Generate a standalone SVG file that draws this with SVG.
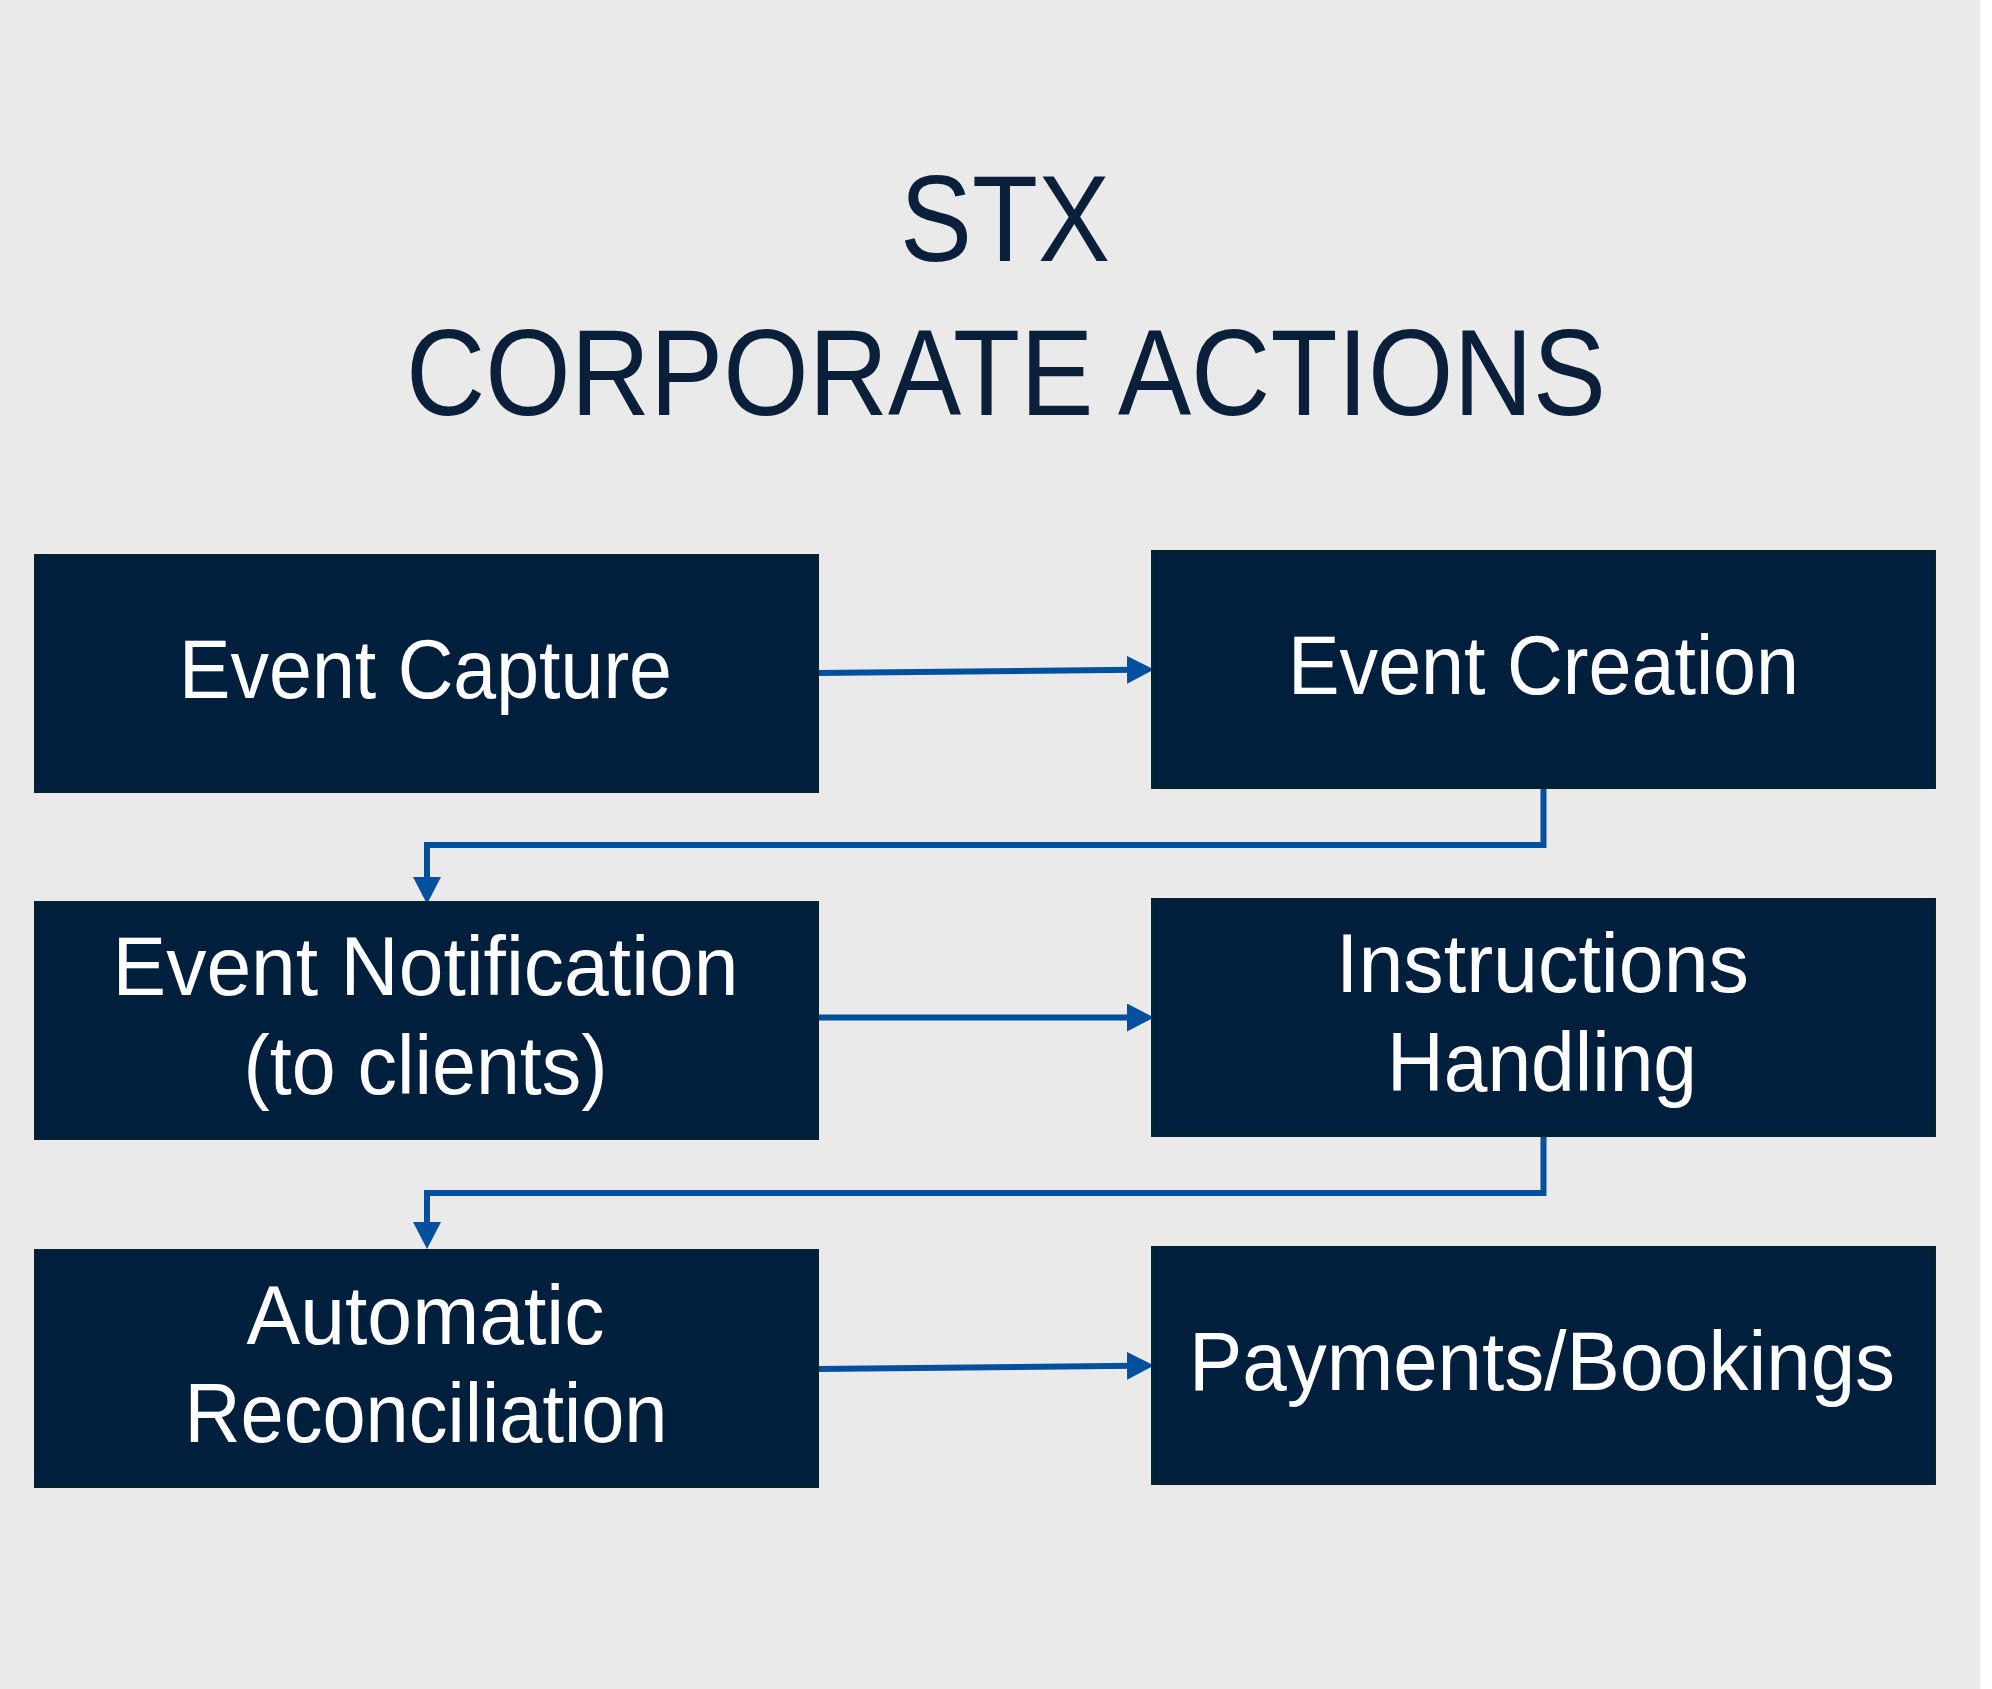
<svg xmlns="http://www.w3.org/2000/svg" width="1992" height="1689" viewBox="0 0 1992 1689">
  <style>
    .bg { fill: #eaeaea; }
    .box { fill: #001f3c; stroke: #04222f; stroke-width: 2.5; }
    .title { font-family: "Liberation Sans", Arial, sans-serif; font-size: 123px; fill: #0a1f3a; }
    .label { font-family: "Liberation Sans", Arial, sans-serif; font-size: 83px; fill: #ffffff; }
    .conn { fill: none; stroke: #00509e; stroke-width: 6; stroke-linejoin: miter; }
  </style>
  <defs>
    <marker id="arrow" markerUnits="userSpaceOnUse" markerWidth="28" markerHeight="28" refX="7" refY="14" orient="auto" viewBox="0 0 28 28">
      <path d="M0,0 L27,14 L0,28 Z" fill="#00509e"/>
    </marker>
  </defs>
  <rect class="bg" x="0" y="0" width="1980" height="1689"/>
  <rect x="1980" y="0" width="12" height="1689" fill="#ffffff"/>

  <g id="title">
    <text class="title" x="900" y="261" textLength="210" lengthAdjust="spacingAndGlyphs">STX</text>
    <text class="title" x="406" y="415" textLength="1200" lengthAdjust="spacingAndGlyphs">CORPORATE ACTIONS</text>
  </g>

  <g id="connectors">
    <path class="conn" d="M816,673 L1134,669.8" marker-end="url(#arrow)"/>
    <path class="conn" d="M1543.5,789 L1543.5,845 L427,845 L427,884" marker-end="url(#arrow)"/>
    <path class="conn" d="M816,1017.5 L1134,1017.5" marker-end="url(#arrow)"/>
    <path class="conn" d="M1543.5,1137 L1543.5,1193 L427,1193 L427,1229" marker-end="url(#arrow)"/>
    <path class="conn" d="M816,1369 L1134,1365.8" marker-end="url(#arrow)"/>
  </g>

  <g id="node-event-capture">
    <rect class="box" x="35.25" y="555.25" width="782.5" height="236.5"/>
    <text class="label" x="179" y="697.7" textLength="493" lengthAdjust="spacingAndGlyphs">Event Capture</text>
  </g>
  <g id="node-event-creation">
    <rect class="box" x="1152.25" y="551.25" width="782.5" height="236.5"/>
    <text class="label" x="1288" y="694" textLength="511" lengthAdjust="spacingAndGlyphs">Event Creation</text>
  </g>
  <g id="node-event-notification">
    <rect class="box" x="35.25" y="902.25" width="782.5" height="236.5"/>
    <text class="label" x="112.5" y="995" textLength="626" lengthAdjust="spacingAndGlyphs">Event Notification</text>
    <text class="label" x="243.5" y="1094.3" textLength="364" lengthAdjust="spacingAndGlyphs">(to clients)</text>
  </g>
  <g id="node-instructions-handling">
    <rect class="box" x="1152.25" y="899.25" width="782.5" height="236.5"/>
    <text class="label" x="1336" y="992" textLength="413" lengthAdjust="spacingAndGlyphs">Instructions</text>
    <text class="label" x="1387" y="1091" textLength="310" lengthAdjust="spacingAndGlyphs">Handling</text>
  </g>
  <g id="node-automatic-reconciliation">
    <rect class="box" x="35.25" y="1250.25" width="782.5" height="236.5"/>
    <text class="label" x="246.5" y="1344.3" textLength="358" lengthAdjust="spacingAndGlyphs">Automatic</text>
    <text class="label" x="184.5" y="1442.3" textLength="483" lengthAdjust="spacingAndGlyphs">Reconciliation</text>
  </g>
  <g id="node-payments-bookings">
    <rect class="box" x="1152.25" y="1247.25" width="782.5" height="236.5"/>
    <text class="label" x="1189" y="1389.5" textLength="706" lengthAdjust="spacingAndGlyphs">Payments/Bookings</text>
  </g>
</svg>
